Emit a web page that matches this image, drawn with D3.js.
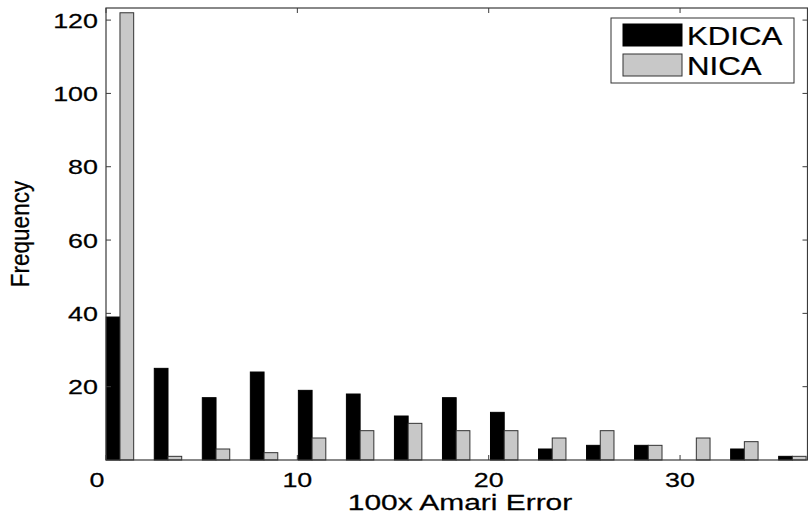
<!DOCTYPE html>
<html>
<head>
<meta charset="utf-8">
<script src="https://cdn.jsdelivr.net/npm/d3@7"></script>
<style>
  body { margin: 0; background: #fff; }
  text { font-family: "Liberation Sans", Arial, sans-serif; fill: #000; }
</style>
</head>
<body>
<div id="container"></div>
<script>
let w = 808;
let h = 516;

// histogram bin centres (100x Amari error) and counts per method
let binCenters = [0.73, 3.24, 5.75, 8.26, 10.77, 13.28, 15.79, 18.30, 20.81, 23.32, 25.83, 28.34, 30.85, 33.36, 35.87];
let kdica = [39, 25, 17, 24, 19, 18, 12, 17, 13, 3, 4, 4, 0, 3, 1];
let nica = [122, 1, 3, 2, 6, 8, 10, 8, 8, 6, 8, 4, 6, 5, 1];
let seriesNames = ["KDICA", "NICA"];
let xTicks = [0, 10, 20, 30];
let yTicks = [20, 40, 60, 80, 100, 120];

let padLeft = 106, padRight = 807.5, padTop = 8, padBottom = 460;
let colors = ["#000000", "#c8c8c8"];
let edge = "#333333";

let viz = d3.select("#container")
  .append("svg")
  .attr("width", w)
  .attr("height", h)
  .style("background-color", "#fff");

let xScale = d3.scaleLinear().domain([0, 36.66]).range([padLeft, padRight]);
let yScale = d3.scaleLinear().domain([0, 123.3]).range([padBottom, padTop]);

// MATLAB grouped bar: each bar is half of 0.571 of the bin step
let step = binCenters[1] - binCenters[0];
let barW = step * 0.571 / 2;

let series = [kdica, nica];
series.forEach((vals, s) => {
  viz.selectAll(".bar" + s)
    .data(vals)
    .enter()
    .append("rect")
    .attr("class", "bar" + s)
    .attr("x", (d, i) => xScale(binCenters[i] + (s - 1) * barW))
    .attr("width", xScale(barW) - xScale(0))
    .attr("y", d => yScale(d))
    .attr("height", d => yScale(0) - yScale(d))
    .attr("fill", colors[s])
    .attr("stroke", s == 0 ? "#000" : edge)
    .attr("stroke-width", 1)
    .style("display", d => d > 0 ? null : "none");
});

// box + inward ticks
let axisColor = "#3a3a3a";
viz.append("rect")
  .attr("x", padLeft).attr("y", padTop)
  .attr("width", padRight - padLeft).attr("height", padBottom - padTop)
  .attr("fill", "none").attr("stroke", axisColor).attr("stroke-width", 1.2);

let tickLen = 5;
let sx = 1.28;

let xAxis = viz.append("g").attr("class", "xAxis");
xTicks.forEach(t => {
  let x = xScale(t);
  xAxis.append("line").attr("x1", x).attr("x2", x).attr("y1", padBottom).attr("y2", padBottom - tickLen).attr("stroke", axisColor);
  xAxis.append("line").attr("x1", x).attr("x2", x).attr("y1", padTop).attr("y2", padTop + tickLen).attr("stroke", axisColor);
  let lx = t == 0 ? x - 9 : x;
  xAxis.append("text")
    .attr("transform", "translate(" + lx + "," + 487 + ") scale(" + sx + ",1)")
    .attr("text-anchor", "middle")
    .attr("font-size", "21px")
    .attr("stroke", "#000").attr("stroke-width", 0.25)
    .text(t);
});

let yAxis = viz.append("g").attr("class", "yAxis");
yTicks.forEach(t => {
  let y = yScale(t);
  yAxis.append("line").attr("x1", padLeft).attr("x2", padLeft + tickLen).attr("y1", y).attr("y2", y).attr("stroke", axisColor);
  yAxis.append("line").attr("x1", padRight).attr("x2", padRight - tickLen).attr("y1", y).attr("y2", y).attr("stroke", axisColor);
  yAxis.append("text")
    .attr("transform", "translate(" + 98 + "," + (y + 7.5) + ") scale(" + sx + ",1)")
    .attr("text-anchor", "end")
    .attr("font-size", "21px")
    .attr("stroke", "#000").attr("stroke-width", 0.25)
    .text(t);
});

// axis labels
viz.append("text")
  .attr("transform", "translate(460,510) scale(1.36,1)")
  .attr("text-anchor", "middle")
  .attr("font-size", "22px")
  .attr("stroke", "#000").attr("stroke-width", 0.25)
  .text("100x Amari Error");

viz.append("text")
  .attr("transform", "translate(29,234) scale(1.15,1) rotate(-90)")
  .attr("text-anchor", "middle")
  .attr("font-size", "22.5px")
  .attr("stroke", "#000").attr("stroke-width", 0.25)
  .text("Frequency");

// legend
let legend = viz.append("g").attr("class", "legend");
legend.append("rect")
  .attr("x", 611).attr("y", 18).attr("width", 183).attr("height", 65)
  .attr("fill", "#fff").attr("stroke", edge).attr("stroke-width", 1);

seriesNames.forEach((name, i) => {
  let y0 = 24 + i * 30;
  legend.append("rect")
    .attr("x", 623).attr("y", y0).attr("width", 59).attr("height", 22)
    .attr("fill", colors[i]).attr("stroke", i == 0 ? "#000" : edge);
  legend.append("text")
    .attr("transform", "translate(687," + (y0 + 21) + ") scale(1.2,1)")
    .attr("font-size", "26px")
    .attr("stroke", "#000").attr("stroke-width", 0.25)
    .text(name);
});
</script>
</body>
</html>
